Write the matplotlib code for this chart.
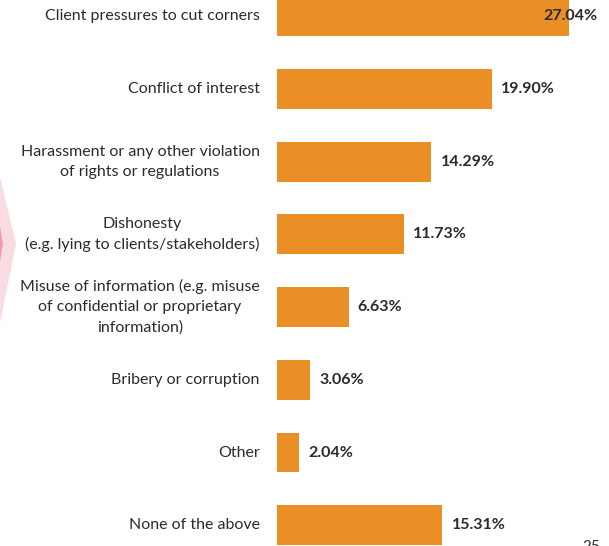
import matplotlib.pyplot as plt
from matplotlib.patches import Polygon

# Share of respondents per issue type
categories = [
    "Client pressures to cut corners",
    "Conflict of interest",
    "Harassment or any other violation\nof rights or regulations",
    "Dishonesty\n(e.g. lying to clients/stakeholders)",
    "Misuse of information (e.g. misuse\nof confidential or proprietary\ninformation)",
    "Bribery or corruption",
    "Other",
    "None of the above",
]
values = [27.04, 19.90, 14.29, 11.73, 6.63, 3.06, 2.04, 15.31]
value_labels = ["27.04%", "19.90%", "14.29%", "11.73%", "6.63%", "3.06%", "2.04%", "15.31%"]
page_number = "25"

bar_color = "#EA8F26"
text_color = "#2b2b2b"

plt.rcParams["font.family"] = ["Lato", "DejaVu Sans"]

fig = plt.figure(figsize=(6.09, 5.46), dpi=100)

# faint chevron decoration on the left edge
deco = fig.add_axes([0, 0, 1, 1], zorder=0)
deco.set_xlim(0, 609)
deco.set_ylim(546, 0)
deco.axis("off")
deco.add_patch(Polygon([(0, 177), (16, 244), (0, 323)], closed=True,
                       facecolor="#F9DCE2", edgecolor="none"))
deco.add_patch(Polygon([(0, 226), (3, 244), (0, 262)], closed=True,
                       facecolor="#EE9EAE", edgecolor="none"))

ax = fig.add_axes([277 / 609, 0, 1 - 277 / 609, 1], zorder=1)
ax.patch.set_alpha(0)
ypos = list(range(len(categories)))
ax.barh(ypos, values, height=0.55, color=bar_color, edgecolor="none")
ax.set_xlim(0, 332 / 10.8)
ax.set_ylim(7.286, -0.224)

for y, v, lab in zip(ypos, values, value_labels):
    # keep the top label inside the panel
    x = min(v + 0.85, 24.7)
    ax.text(x, y, lab, va="center", ha="left", fontsize=11.5,
            fontweight="bold", color=text_color)

for y, cat in zip(ypos, categories):
    ax.annotate(cat, xy=(0, y), xytext=(-12.5, 0), textcoords="offset points",
                ha="right", va="center", multialignment="center",
                fontsize=11.5, color=text_color, linespacing=1.55,
                annotation_clip=False)

ax.axis("off")

fig.text(582 / 609, 6 / 546, page_number, ha="left", va="top",
         fontsize=11, color=text_color)

fig.savefig("out.png", dpi=100)
